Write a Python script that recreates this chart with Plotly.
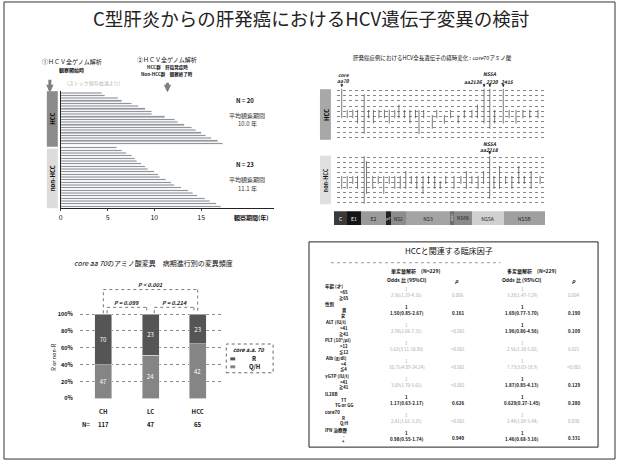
import plotly.graph_objects as go

W, H = 617, 465
def px(x): return x / W
def py(y): return 1 - y / H

FONT = "Noto Sans CJK JP, Liberation Sans, sans-serif"

# ---------------- data ----------------
# top-left: observation period (years)
hcc_years = [4.4, 4.7, 6.1, 6.5, 7.6, 8.3, 9.0, 9.7, 9.7, 11.1, 12.2, 12.5, 13.2,
             14.0, 14.4, 15.0, 15.5, 16.1, 16.8, 17.3]
nonhcc_years = [6.0, 6.5, 7.0, 7.6, 7.9, 8.1, 8.6, 9.0, 9.3, 10.0, 10.4, 10.6, 11.2,
                11.8, 12.1, 12.9, 13.6, 14.1, 14.6, 15.4, 15.9, 16.6, 17.1]
obs_ticks = [0, 5, 10, 15]

# top-right: genome map and mutation marks (aa position, top row, bottom row)
genome_regions = ["C", "E1", "E2", "p7", "NS2", "NS3", "NS4A", "NS4B", "NS5A", "NS5B"]
region_len = [191, 192, 363, 63, 217, 631, 54, 261, 447, 591]
region_col = ["#3a3a3a", "#151515", "#9a9a9a", "#222222", "#8c8c8c", "#a4a4a4",
              "#6e6e6e", "#8a8a8a", "#d0d0d0", "#a0a0a0"]
hcc_mut_aa = [70, 396, 150, 230, 300, 460, 530, 610, 690, 760, 840, 900, 980, 1060,
              1140, 1192, 1260, 1385, 1450, 1560, 1650, 1760, 1850, 1960, 2040, 2136,
              2220, 2290, 2415, 2500, 2600, 2700, 2800, 2920]
hcc_mut_top = [1, 2, 5, 5, 5, 5, 5, 5, 5, 5, 5, 4, 5, 5, 5, 5, 5, 6, 5, 6, 5, 6, 5, 5,
               4, 1, 1, 5, 1, 5, 5, 5, 5, 5]
hcc_mut_bot = [6, 9, 6, 6, 7, 6, 7, 6, 6, 7, 6, 6, 6, 7, 6, 9, 6, 8, 6, 7, 6, 7, 6, 6,
               6, 7, 8, 7, 7, 6, 7, 6, 6, 6]
non_mut_aa = [70, 396, 430, 150, 230, 300, 520, 600, 680, 760, 840, 920, 1000, 1080,
              1160, 1250, 1330, 1420, 1500, 1580, 1700, 1800, 1880, 1960, 2050, 2130,
              2218, 2280, 2360, 2450, 2540, 2640, 2720, 2820, 2950]
non_mut_top = [5, 1, 2, 5, 5, 5, 5, 5, 5, 5, 5, 5, 4, 5, 5, 5, 5, 5, 6, 5, 5, 5, 4, 5,
               5, 4, 1, 5, 3, 5, 5, 3, 5, 4, 5]
non_mut_bot = [7, 10, 8, 7, 6, 7, 7, 6, 8, 6, 7, 7, 7, 6, 7, 8, 6, 7, 7, 6, 7, 6, 7, 6,
               7, 6, 9, 7, 7, 6, 7, 6, 6, 7, 6]

# bottom-left: core aa70 by stage
stages = ["CH", "LC", "HCC"]
n_R = [70, 23, 23]
n_QH = [47, 24, 42]
n_total = [117, 47, 65]
pct_ticks = [0, 20, 40, 60, 80, 100]

# bottom-right: table
factors = ["年齢 (才)", "性別", "ALT (IU/l)", "PLT (10⁴/μl)", "Alb (g/dl)",
           "γGTP (IU/l)", "IL28B", "core70", "IFN 治療歴"]
sub_a = ["<65", "男", "<41", ">12", ">4", "<41", "TT", "R", "-"]
sub_b = ["≧65", "女", "≧41", "≦12", "≦4", "≧41", "TG or GG", "Q/H", "+"]
uni_or = ["2.56(1.29-4.16)", "1.50(0.85-2.67)", "2.98(2.06-7.31)", "5.62(3.11-10.80)",
          "10.75(4.89-24.24)", "3.09(1.70-5.62)", "1.17(0.63-2.17)", "2.41(1.61-3.25)",
          "0.98(0.55-1.74)"]
uni_p = ["0.006", "0.161", "<0.001", "<0.001", "<0.001", "<0.001", "0.626", "<0.001", "0.949"]
multi_or = ["3.28(1.47-7.29)", "1.69(0.77-3.70)", "1.96(0.86-4.56)", "2.56(1.10-5.82)",
            "7.73(3.03-18.9)", "1.87(0.85-4.13)", "0.629(0.27-1.45)", "2.44(1.09-5.44)",
            "1.46(0.68-3.16)"]
multi_p = ["0.004", "0.190", "0.109", "0.021", "<0.001", "0.129", "0.280", "0.030", "0.331"]

# ---------------- figure ----------------
fig = go.Figure()
ann = []
shapes = []

def sig(p):
    return p.startswith("<") or float(p) < 0.05

def t(x, y, text, size=6, **kw):
    d = dict(x=px(x), y=py(y), xref="paper", yref="paper", text=text, showarrow=False,
             xanchor="center", yanchor="middle",
             font=dict(size=size, color=kw.pop("color", "#111")))
    d.update(kw)
    ann.append(d)

# ----- top-left bars -----
hcc_y = list(range(len(hcc_years)))
non_y = [len(hcc_years) + 0.6 + i for i in range(len(nonhcc_years))]
fig.add_trace(go.Bar(x=hcc_years, y=hcc_y, orientation="h", marker_color="#959595",
                     width=0.6, xaxis="x", yaxis="y", showlegend=False))
fig.add_trace(go.Bar(x=nonhcc_years, y=non_y, orientation="h", marker_color="#959595",
                     width=0.6, xaxis="x", yaxis="y", showlegend=False))

# ----- top-right mutation marks -----
def segs(aa, top, bot):
    xs, ys = [], []
    for a, tp, b in zip(aa, top, bot):
        xs += [a, a, None]
        ys += [tp - 0.3, b + 0.3, None]
    return xs, ys

xs, ys = segs(hcc_mut_aa, hcc_mut_top, hcc_mut_bot)
fig.add_trace(go.Scatter(x=xs, y=ys, mode="lines", line=dict(color="#555", width=0.8),
                         xaxis="x2", yaxis="y2", showlegend=False, hoverinfo="skip"))
xs, ys = segs(non_mut_aa, non_mut_top, non_mut_bot)
fig.add_trace(go.Scatter(x=xs, y=ys, mode="lines", line=dict(color="#555", width=0.8),
                         xaxis="x3", yaxis="y3", showlegend=False, hoverinfo="skip"))

# genome map
for name, ln, col in zip(genome_regions, region_len, region_col):
    dark = col in ("#3a3a3a", "#151515", "#222222", "#6e6e6e")
    fig.add_trace(go.Bar(x=[ln], y=[0], orientation="h", marker_color=col,
                         marker_line_width=0, width=1, text=[name],
                         textposition="inside", insidetextanchor="middle",
                         textfont=dict(size=5, color="white" if dark else "#222"),
                         xaxis="x4", yaxis="y4", showlegend=False))

# ----- bottom-left stacked bars -----
col_R, col_QH = "#555555", "#858585"
pct_QH = [q / n * 100 for q, n in zip(n_QH, n_total)]
pct_R = [r / n * 100 for r, n in zip(n_R, n_total)]
fig.add_trace(go.Bar(x=stages, y=pct_QH, name="Q/H", marker_color=col_QH,
                     text=[str(v) for v in n_QH], textposition="inside",
                     insidetextanchor="middle", textfont=dict(size=6, color="white"),
                     width=0.36, xaxis="x5", yaxis="y5", showlegend=False))
fig.add_trace(go.Bar(x=stages, y=pct_R, name="R", marker_color=col_R,
                     text=[str(v) for v in n_R], textposition="inside",
                     insidetextanchor="middle", textfont=dict(size=6, color="white"),
                     width=0.36, xaxis="x5", yaxis="y5", showlegend=False))

# brackets
brackets = [(0, 2, 129, "P < 0.001", 134), (0.08, 0.92, 108, "P = 0.099", 113),
            (1.08, 1.92, 108, "P = 0.214", 113)]
for x0, x1, yt, lab, yl in brackets:
    for (a, b, c, d) in [(x0, 101, x0, yt), (x0, yt, x1, yt), (x1, yt, x1, 101)]:
        shapes.append(dict(type="line", xref="x5", yref="y5", x0=a, y0=b, x1=c, y1=d,
                           line=dict(color="#777", width=1, dash="dot")))
    ann.append(dict(x=(x0 + x1) / 2, y=yl, xref="x5", yref="y5", text="<b><i>" + lab + "</i></b>",
                    showarrow=False, yanchor="middle", font=dict(size=5.5, color="#222")))

for s, n in zip(stages, n_total):
    ann.append(dict(x=s, y=py(428), xref="x5", yref="paper", text="<b>%d</b>" % n,
                    showarrow=False, yanchor="middle", font=dict(size=6)))
t(84, 428, "<b>N=</b>", 6)
t(52, 360, "R or non-R", 5.5, textangle=-90)
t(152, 265, "<i>core aa 70</i>のアミノ酸変異　病期進行別の変異頻度", 7)

# manual legend
shapes.append(dict(type="rect", xref="paper", yref="paper", x0=px(225), x1=px(272),
                   y0=py(376), y1=py(347), line=dict(color="#666", width=1, dash="dot"),
                   fillcolor="white"))
t(248, 353, "<b><i>core a.a. 70</i></b>", 5.5)
for yy, col, lab in [(362, col_R, "R"), (370, col_QH, "Q/H")]:
    shapes.append(dict(type="rect", xref="paper", yref="paper", x0=px(229), x1=px(234),
                       y0=py(yy + 1.5), y1=py(yy - 1.5), fillcolor=col, line=dict(width=0)))
    t(253, yy, "<b>" + lab + "</b>", 6)

# ----- top-left annotations -----
t(70, 62, "①ＨＣＶ全ゲノム解析", 6)
t(70, 71, "<b>観察開始時</b>", 5)
t(92, 84, "(ストック保存血清より)", 5, color="#b0b0b0")
t(166, 60, "②ＨＣＶ全ゲノム解析", 6)
t(166, 68, "<b>HCC群　肝癌発症時</b>", 4.5)
t(166, 75, "<b>Non-HCC群　観察終了時</b>", 4.5)
t(244, 101, "<b>N = 20</b>", 6)
t(246, 116, "平均観察期間", 6, color="#333")
t(246, 125, "10.0 年", 6, color="#333")
t(244, 166, "<b>N = 23</b>", 6)
t(246, 181, "平均観察期間", 6, color="#333")
t(246, 190, "11.1 年", 6, color="#333")
t(250, 219, "<b>観察期間(年)</b>", 6)
for xa, yt in ((48, 79), (166, 82)):
    ann.append(dict(x=px(xa), y=py(93), xref="paper", yref="paper", ax=0, ay=-(93 - yt),
                    text="", showarrow=True, arrowhead=2, arrowsize=0.5, arrowwidth=3,
                    arrowcolor="#808080"))
shapes.append(dict(type="rect", xref="paper", yref="paper", x0=px(45), x1=px(56),
                   y0=py(148), y1=py(92), fillcolor="#8c8c8c", line=dict(width=0)))
shapes.append(dict(type="rect", xref="paper", yref="paper", x0=px(45), x1=px(56),
                   y0=py(210), y1=py(150), fillcolor="#dcdcdc", line=dict(width=0)))
t(51, 120, "<b>HCC</b>", 6, textangle=-90)
t(51, 180, "<b>non-HCC</b>", 6, textangle=-90)

# ----- top-right annotations -----
t(432, 59, "肝発癌症例におけるHCV全長遺伝子の経時変化 : <i>core</i>70アミノ酸", 5.5)
shapes.append(dict(type="rect", xref="paper", yref="paper", x0=px(319), x1=px(330),
                   y0=py(141), y1=py(90), fillcolor="#a8a8a8", line=dict(width=0)))
shapes.append(dict(type="rect", xref="paper", yref="paper", x0=px(319), x1=px(330),
                   y0=py(206), y1=py(157), fillcolor="#e0e0e0", line=dict(width=0)))
t(325, 116, "<b>HCC</b>", 6, textangle=-90)
t(325, 182, "<b>non-HCC</b>", 5.5, textangle=-90)

mark_labels = [("x2", 70, 2, 75, "core", "center"), ("x2", 70, 2, 81, "aa70", "center"),
               ("x2", 2136, 1, 82, "aa2136", "right"), ("x2", 2220, 0, 74, "NS5A", "center"),
               ("x2", 2220, 3, 82, "2220", "center"), ("x2", 2415, 4, 82, "2415", "center"),
               ("x3", 2218, 0, 145, "NS5A", "center"), ("x3", 2218, 0, 151, "aa2218", "center")]
for xr, xa, dx, yy, lab, anc in mark_labels:
    ann.append(dict(x=xa, y=py(yy), xref=xr, yref="paper", xshift=dx, xanchor=anc,
                    text="<b><i>" + lab + "</i></b>", showarrow=False,
                    yanchor="middle", font=dict(size=5)))
for xr, yr, xa in [("x2", "y2", 70), ("x2", "y2", 2136), ("x2", "y2", 2220),
                   ("x2", "y2", 2415), ("x3", "y3", 2218)]:
    ann.append(dict(x=xa, y=0.4, xref=xr, yref=yr, text="", showarrow=True, ax=0, ay=-5,
                    arrowhead=2, arrowsize=0.6, arrowwidth=1, arrowcolor="#333"))

# ----- table -----
shapes.append(dict(type="rect", xref="paper", yref="paper", x0=px(308), x1=px(598),
                   y0=py(451), y1=py(244), line=dict(color="#222", width=1)))
shapes.append(dict(type="line", xref="paper", yref="paper", x0=px(330), x1=px(500),
                   y0=py(265), y1=py(265), line=dict(color="#999", width=1, dash="dot")))
t(448, 253, "HCCと関連する臨床因子", 8)
t(415, 273, "<b>単変量解析　(N=229)</b>", 5)
t(531, 273, "<b>多変量解析　(N=229)</b>", 5)
t(406, 282, "<b>Odds 比 (95%CI)</b>", 5)
t(522, 282, "<b>Odds 比 (95%CI)</b>", 5)
t(456, 283, "<b><i>p</i></b>", 5)
t(574, 283, "<b><i>p</i></b>", 5)
for i, f in enumerate(factors):
    y = 297.5 + 18.1 * i
    t(322, y - 8.5, "<b>" + f + "</b>", 4.5, xanchor="left")
    t(343, y - 2.5, "<b>" + sub_a[i] + "</b>", 4.3)
    t(343, y + 2.8, "<b>" + sub_b[i] + "</b>", 4.3)
    for cx, orv, pcx, pv in [(406, uni_or[i], 457, uni_p[i]), (522, multi_or[i], 574, multi_p[i])]:
        s = sig(pv)
        col = "#a8a8a8" if s else "#111"
        fmt = (lambda z: z) if s else (lambda z: "<b>" + z + "</b>")
        t(cx, y - 5.5, fmt("1"), 4.5, color=col)
        t(cx, y + 0.5, fmt(orv), 4.5, color=col)
        t(pcx, y, fmt(pv), 4.5, color=col)

# ----- title and border -----
t(310, 18, "C型肝炎からの肝発癌におけるHCV遺伝子変異の検討", 18.5, color="#222")
shapes.append(dict(type="rect", xref="paper", yref="paper", x0=px(2), x1=px(615),
                   y0=py(463), y1=py(2), line=dict(color="#333", width=1)))

hidden = dict(showgrid=False, zeroline=False, showticklabels=False, ticks="", showline=False)

fig.update_layout(
    width=W, height=H, margin=dict(l=0, r=0, t=0, b=0),
    paper_bgcolor="white", plot_bgcolor="rgba(0,0,0,0)",
    font=dict(family=FONT, color="#111"),
    barmode="stack", showlegend=False,
    xaxis=dict(domain=[px(59), px(273)], range=[0, 22.8], tickvals=obs_ticks,
               showline=True, linecolor="#222", linewidth=1, ticks="outside", ticklen=2,
               tickfont=dict(size=7), showgrid=False, zeroline=False, anchor="y"),
    yaxis=dict(domain=[py(210), py(92)], range=[43.3, -0.6], showline=True,
               linecolor="#222", linewidth=1, showticklabels=False, ticks="",
               showgrid=False, zeroline=False, anchor="x"),
    xaxis2=dict(domain=[px(336), px(544)], range=[0, 3010], anchor="y2", **hidden),
    yaxis2=dict(domain=[py(142), py(88)], range=[10.6, 0.4], anchor="x2",
                tickvals=list(range(1, 11)), showgrid=True, gridcolor="#888",
                gridwidth=0.5, griddash="dot", showticklabels=False, zeroline=False),
    xaxis3=dict(domain=[px(336), px(544)], range=[0, 3010], anchor="y3", **hidden),
    yaxis3=dict(domain=[py(207), py(156)], range=[10.6, 0.4], anchor="x3",
                tickvals=list(range(1, 11)), showgrid=True, gridcolor="#888",
                gridwidth=0.5, griddash="dot", showticklabels=False, zeroline=False),
    xaxis4=dict(domain=[px(333), px(545)], range=[0, 3010], anchor="y4", **hidden),
    yaxis4=dict(domain=[py(227), py(213)], range=[-0.5, 0.5], anchor="x4", **hidden),
    xaxis5=dict(domain=[px(78), px(220)], anchor="y5", showgrid=False, zeroline=False,
                ticks="", tickfont=dict(size=6), ticklabelstandoff=8,
                tickprefix="<b>", ticksuffix="</b>"),
    yaxis5=dict(domain=[py(402), py(287)], range=[0, 135], anchor="x5",
                tickvals=pct_ticks, ticktext=["<b>%d%%</b>" % v for v in pct_ticks],
                tickfont=dict(size=5.5), showgrid=True, gridcolor="#888", gridwidth=0.7,
                griddash="dot", zeroline=False, ticks="", ticklabelstandoff=6),
    annotations=ann, shapes=shapes,
)

fig.write_html("out.html", config={"displayModeBar": False},
               post_script="document.body.style.margin='0';")
